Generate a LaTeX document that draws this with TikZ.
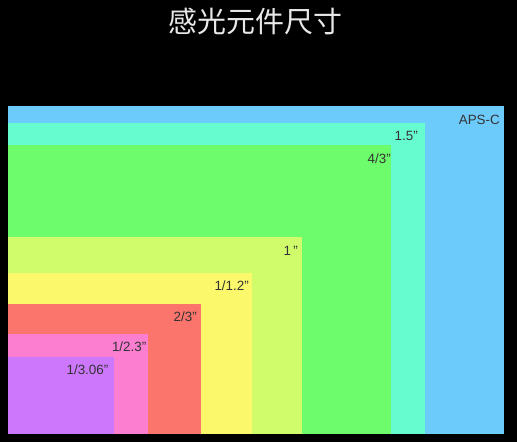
\documentclass[tikz,border=0pt]{standalone}
\usepackage{fontspec}
\setmainfont{Liberation Sans}
\newfontfamily\cjk{Noto Sans CJK SC}
\definecolor{capsc}{HTML}{6DCBFC}
\definecolor{cfifteen}{HTML}{66FCD0}
\definecolor{cfourthird}{HTML}{6CFC6C}
\definecolor{cone}{HTML}{D0FC6C}
\definecolor{conetwo}{HTML}{FCF86C}
\definecolor{ctwothird}{HTML}{FC756C}
\definecolor{conetwothree}{HTML}{FC7ED0}
\definecolor{cthree}{HTML}{CC77FC}
\definecolor{labelgray}{HTML}{333333}
\definecolor{titlegray}{HTML}{E8E8E8}
\tikzset{
  sensor/.style={draw=none},
  sizelabel/.style={anchor=east, text=labelgray, inner sep=0pt, font=\fontsize{13.4}{15}\selectfont}
}
\newcommand{\qm}{\symbol{34}}
\begin{document}
\begin{tikzpicture}[x=1pt,y=-1pt]
\useasboundingbox (0,0) rectangle (517,442);
\fill[black] (0,0) rectangle (517,442);
\node[text=titlegray, font=\cjk\fontsize{29}{32}\selectfont, inner sep=0pt] (title) at (255,22) {感光元件尺寸};
\fill[capsc] (8,434) rectangle (504,106);
\fill[cfifteen] (8,434) rectangle (425,123);
\fill[cfourthird] (8,434) rectangle (391,145);
\fill[cone] (8,434) rectangle (302,237);
\fill[conetwo] (8,434) rectangle (252,273);
\fill[ctwothird] (8,434) rectangle (201,304);
\fill[conetwothree] (8,434) rectangle (148,334);
\fill[cthree] (8,434) rectangle (114,357);
\node[sizelabel] (lapsc) at (500,120) {APS-C};
\node[sizelabel] (l15) at (418,135.5) {1.5\qm};
\node[sizelabel] (l43) at (391,159) {4/3\qm};
\node[sizelabel] (l1) at (298,250.5) {1\,\qm};
\node[sizelabel] (l12) at (249,285.5) {1/1.2\qm};
\node[sizelabel] (l23) at (197,317) {2/3\qm};
\node[sizelabel] (l223) at (146.5,346.5) {1/2.3\qm};
\node[sizelabel] (l306) at (108.5,370) {1/3.06\qm};
\end{tikzpicture}
\end{document}
